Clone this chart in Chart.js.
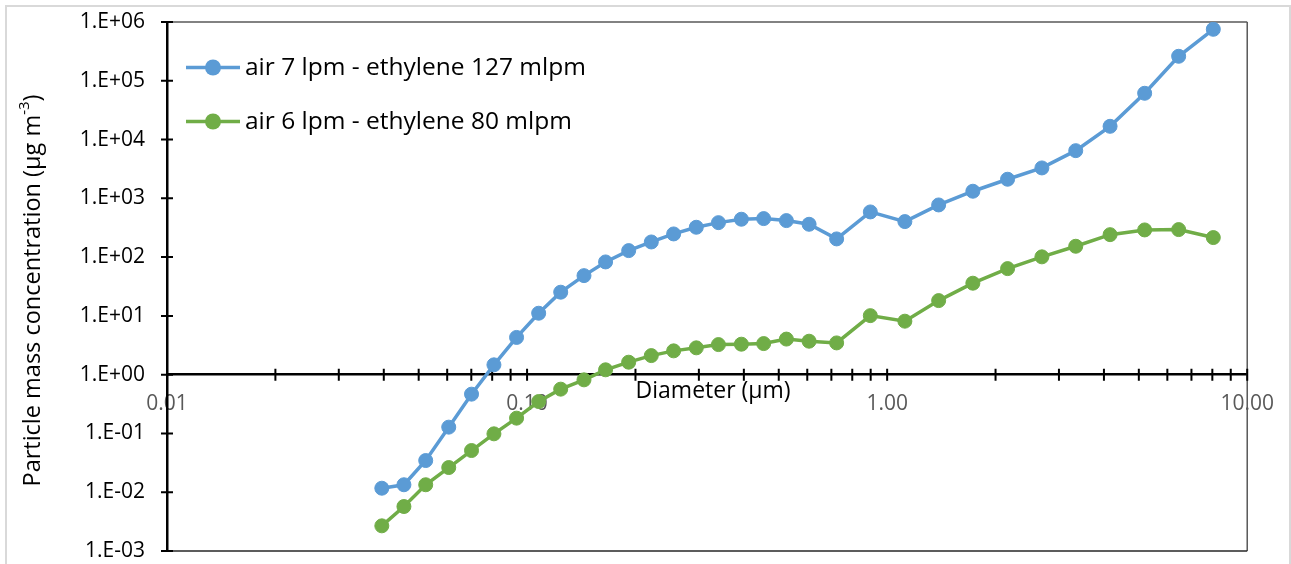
<!DOCTYPE html>
<html>
<head>
<meta charset="utf-8">
<title>Particle mass concentration</title>
<script src="https://cdn.jsdelivr.net/npm/chart.js@4.4.0/dist/chart.umd.min.js"></script>
<style>
  html, body { margin: 0; padding: 0; background: #fff; overflow: hidden; }
  #frame { position: absolute; left: 5px; top: 5px; width: 1282px; height: 600px; border: 2px solid #d9d9d9; }
  #wrap { position: absolute; left: 0; top: 0; width: 1291px; height: 564px; }
</style>
</head>
<body>
<div id="frame"></div>
<div id="wrap"><canvas id="chart"></canvas></div>
<script>
// diameters (µm)
const diameter = [0.0395, 0.0455, 0.0523, 0.0606, 0.0701, 0.0809, 0.0935, 0.1077, 0.124, 0.1439,
  0.1652, 0.1915, 0.2213, 0.2553, 0.2951, 0.340, 0.3937, 0.454, 0.525, 0.607,
  0.724, 0.898, 1.12, 1.39, 1.73, 2.16, 2.69, 3.34, 4.16, 5.19, 6.45, 8.05];

// particle mass concentration (µg m-3)
const air7Eth127 = [0.0117, 0.0134, 0.0346, 0.128, 0.466, 1.47, 4.3, 11.1, 25.3, 48.4,
  82.8, 129, 181, 248, 322, 386, 441, 452, 418, 362,
  204, 587, 402, 772, 1321, 2113, 3290, 6470, 16800, 61300, 261000, 751000];
const air6Eth80 = [0.00268, 0.00571, 0.0134, 0.0263, 0.0512, 0.0985, 0.182, 0.349, 0.567, 0.816,
  1.21, 1.63, 2.11, 2.54, 2.86, 3.25, 3.3, 3.38, 4.03, 3.71,
  3.47, 10.1, 8.13, 18.2, 36, 63.7, 101, 153, 241, 290, 294, 215];

const seriesLabels = ["air 7 lpm - ethylene 127 mlpm", "air 6 lpm - ethylene 80 mlpm"];
const seriesColors = ["#5b9bd5", "#70ad47"];

const xDecades = [0.01, 0.1, 1, 10];
const yDecades = [1e-3, 1e-2, 1e-1, 1e0, 1e1, 1e2, 1e3, 1e4, 1e5, 1e6];
const xTitle = "Diameter (µm)";
const yTitle = ["Particle mass concentration (µg m", "-3", ")"];

const FONT = "'Open Sans', 'Noto Sans', sans-serif";

const isDecade = (v) => Math.abs(Math.log10(v) - Math.round(Math.log10(v))) < 1e-6;
const sciLabel = (v) => {
  const e = Math.round(Math.log10(v));
  return "1.E" + (e < 0 ? "-" : "+") + String(Math.abs(e)).padStart(2, "0");
};

const toPoints = (ys) => diameter.map((d, i) => ({ x: d, y: ys[i] }));

// tick marks crossing the axes, plot frame, axis titles (Excel look)
const decor = {
  id: "decor",
  beforeDatasetsDraw(chart) {
    const { ctx, chartArea: a, scales: { x, y } } = chart;
    const y0 = y.getPixelForValue(1);
    ctx.save();

    ctx.lineWidth = 1.5;
    ctx.strokeStyle = "#595959";
    ctx.beginPath();
    ctx.moveTo(a.left, a.top);
    ctx.lineTo(a.right, a.top);
    ctx.moveTo(a.right, a.top);
    ctx.lineTo(a.right, a.bottom);
    ctx.stroke();
    ctx.strokeStyle = "#262626";
    ctx.beginPath();
    ctx.moveTo(a.left, a.bottom);
    ctx.lineTo(a.right, a.bottom);
    ctx.stroke();

    ctx.strokeStyle = "#000";
    ctx.lineWidth = 2;
    ctx.beginPath();
    for (let i = 0; i < xDecades.length - 1; i++) {
      for (let m = 1; m <= 9; m++) {
        const px = x.getPixelForValue(m * xDecades[i]);
        ctx.moveTo(px, y0 - 6);
        ctx.lineTo(px, y0 + 6);
      }
    }
    const pxEnd = x.getPixelForValue(xDecades[xDecades.length - 1]);
    ctx.moveTo(pxEnd, y0 - 6);
    ctx.lineTo(pxEnd, y0 + 6);
    yDecades.forEach((v) => {
      const py = y.getPixelForValue(v);
      ctx.moveTo(a.left - 6, py);
      ctx.lineTo(a.left + 6, py);
    });
    ctx.stroke();

    // x title, sits right under the axis line
    ctx.fillStyle = "#000";
    ctx.font = `23px ${FONT}`;
    ctx.textAlign = "center";
    ctx.textBaseline = "middle";
    ctx.fillText(xTitle, (a.left + a.right) / 2 + 6, y0 + 17);

    // y title with superscript
    const big = `23.5px ${FONT}`, small = `15px ${FONT}`;
    ctx.font = big;
    const w1 = ctx.measureText(yTitle[0]).width;
    const w3 = ctx.measureText(yTitle[2]).width;
    ctx.font = small;
    const w2 = ctx.measureText(yTitle[1]).width;
    const total = w1 + w2 + w3;
    ctx.translate(33, (a.top + a.bottom) / 2 + 4);
    ctx.rotate(-Math.PI / 2);
    ctx.textAlign = "left";
    ctx.font = big;
    ctx.fillText(yTitle[0], -total / 2, 0);
    ctx.font = small;
    ctx.fillText(yTitle[1], -total / 2 + w1, -8);
    ctx.font = big;
    ctx.fillText(yTitle[2], -total / 2 + w1 + w2, 0);
    ctx.restore();
  },
  afterDraw(chart) {
    const { ctx, chartArea: a } = chart;
    ctx.save();
    chart.data.datasets.forEach((ds, i) => {
      const cy = a.top + 45.5 + i * 54;
      const x1 = a.left + 19, x2 = a.left + 73;
      ctx.strokeStyle = ds.borderColor;
      ctx.lineWidth = 3.5;
      ctx.beginPath();
      ctx.moveTo(x1, cy);
      ctx.lineTo(x2, cy);
      ctx.stroke();
      ctx.fillStyle = ds.borderColor;
      ctx.beginPath();
      ctx.arc((x1 + x2) / 2, cy, 8, 0, Math.PI * 2);
      ctx.fill();
      ctx.fillStyle = "#000";
      ctx.font = `24.5px ${FONT}`;
      ctx.textAlign = "left";
      ctx.textBaseline = "middle";
      ctx.fillText(ds.label, x2 + 5, cy + 1);
    });
    ctx.restore();
  },
};

const datasetFor = (i, ys) => ({
  label: seriesLabels[i],
  data: toPoints(ys),
  borderColor: seriesColors[i],
  backgroundColor: seriesColors[i],
  pointBackgroundColor: seriesColors[i],
  pointBorderColor: seriesColors[i],
  borderWidth: 3.5,
  pointRadius: 7,
  pointBorderWidth: 1,
  tension: 0,
});

new Chart(document.getElementById("chart"), {
  type: "line",
  data: { datasets: [datasetFor(0, air7Eth127), datasetFor(1, air6Eth80)] },
  options: {
    responsive: true,
    maintainAspectRatio: false,
    animation: false,
    layout: { padding: { left: 0, top: 22, right: 43, bottom: 13 } },
    plugins: { legend: { display: false }, tooltip: { enabled: false } },
    scales: {
      x: {
        type: "logarithmic",
        min: 0.01,
        max: 10,
        position: { y: 1 },
        grid: { display: true, drawOnChartArea: false, drawTicks: false },
        border: { display: true, color: "#000", width: 2.5 },
        ticks: {
          autoSkip: false,
          maxRotation: 0,
          padding: 17,
          color: "#595959",
          font: { family: FONT, size: 21 },
          callback: (v) => (isDecade(v) ? Number(v).toFixed(2) : ""),
        },
      },
      y: {
        type: "logarithmic",
        min: 1e-3,
        max: 1e6,
        position: "left",
        afterFit: (s) => { s.width = 167; },
        grid: { display: true, drawOnChartArea: false, drawTicks: true, tickLength: 22, tickColor: "rgba(0,0,0,0)" },
        border: { display: true, color: "#000", width: 2.5 },
        ticks: {
          autoSkip: false,
          padding: 0,
          color: "#000",
          font: { family: FONT, size: 21 },
          callback: (v) => (isDecade(v) ? sciLabel(v) : ""),
        },
      },
    },
  },
  plugins: [decor],
});
</script>
</body>
</html>
